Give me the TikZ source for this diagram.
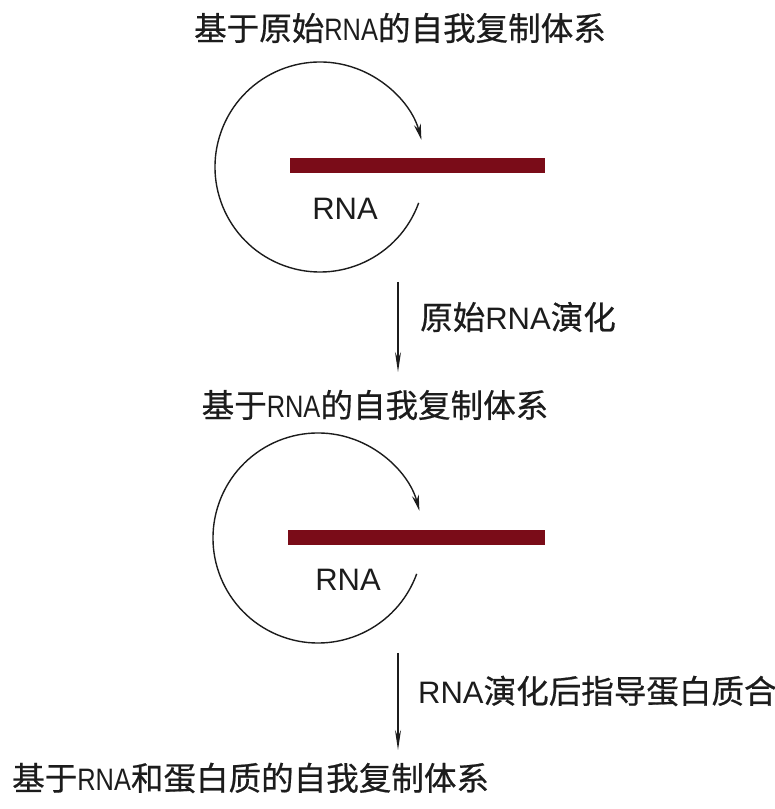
\documentclass[tikz,border=0pt]{standalone}
\usepackage{fontspec}
\setmainfont{Liberation Sans}
\newfontfamily\cjk[Scale=1.05, FakeBold=0.6]{Noto Sans CJK SC}
\newfontfamily\cond[FakeStretch=0.82]{Liberation Sans}
\usetikzlibrary{arrows.meta}
\definecolor{barred}{RGB}{122,12,24}
\definecolor{ink}{RGB}{28,28,28}
\tikzset{
  lbl/.style={inner sep=0pt, text=ink, font=\fontsize{31}{34}\selectfont},
  rnalbl/.style={inner sep=0pt, text=ink, font=\fontsize{31}{34}\selectfont},
  rnabar/.style={fill=barred, draw=none},
  cycle/.style={draw=ink, line width=1.4pt, -{Stealth[length=16pt, width=7pt]}},
  flow/.style={draw=ink, line width=1.4pt, -{Stealth[length=20pt, width=6pt]}}
}
\begin{document}
\begin{tikzpicture}[x=1pt,y=1pt]
\useasboundingbox (0,0) rectangle (775,809);
% titles
\node[lbl] (t1) at (400,781) {{\cjk 基于原始}{\cond RNA}{\cjk 的自我复制体系}};
\node[lbl] (t2) at (375,404) {{\cjk 基于}{\cond RNA}{\cjk 的自我复制体系}};
\node[lbl, anchor=west] (t3) at (12,31) {{\cjk 基于}{\cond RNA}{\cjk 和蛋白质的自我复制体系}};
% cycle 1
\coordinate (c1) at (320,642);
\fill[rnabar] (290,651) rectangle (545,636);
\node[rnalbl] (r1) at (345,600) {RNA};
\draw[cycle] (c1) ++(-20:105) arc[start angle=-20, end angle=-345, radius=105];
% step 1
\coordinate (a1s) at (398,527);
\coordinate (a1e) at (398,437);
\draw[flow] (a1s) -- (a1e);
\node[lbl, anchor=west] (l1) at (420,492) {{\cjk 原始}RNA{\cjk 演化}};
% cycle 2
\coordinate (c2) at (318,271);
\fill[rnabar] (288,279) rectangle (545,264);
\node[rnalbl] (r2) at (348,229) {RNA};
\draw[cycle] (c2) ++(-20:105) arc[start angle=-20, end angle=-345, radius=105];
% step 2
\coordinate (a2s) at (398,156);
\coordinate (a2e) at (398,59);
\draw[flow] (a2s) -- (a2e);
\node[lbl, anchor=west] (l2) at (418,118) {RNA{\cjk 演化后指导蛋白质合}};
\end{tikzpicture}
\end{document}
